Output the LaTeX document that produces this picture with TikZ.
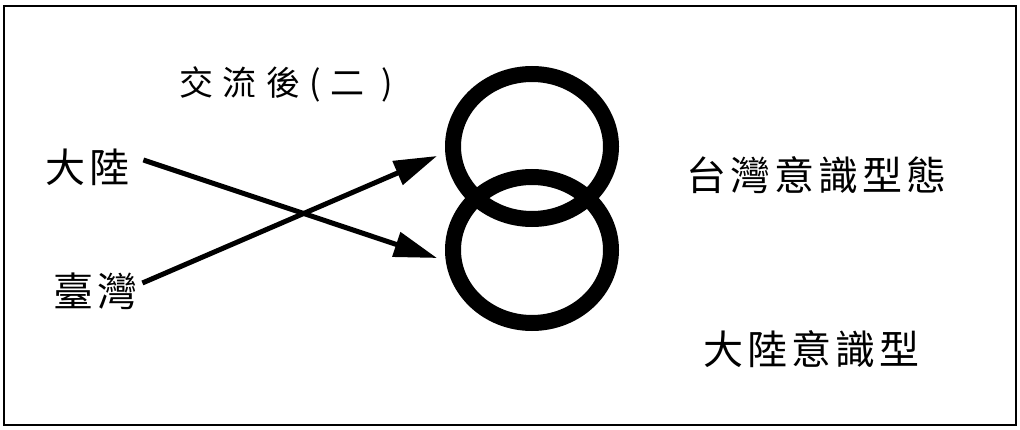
\documentclass[tikz,border=0pt]{standalone}
\usepackage{fontspec}
\usepackage{tikz}
\usetikzlibrary{positioning,shapes.geometric,arrows.meta}
\newfontfamily\cjk{Noto Sans CJK TC}

\begin{document}
\begin{tikzpicture}[x=1pt, y=-1pt,
    ring/.style={draw, ellipse, line width=16pt, inner sep=0pt,
      minimum width=158pt, minimum height=145pt},
    lbl/.style={anchor=west, inner sep=0pt,
      font=\cjk\fontsize{40}{44}\selectfont\addfontfeature{LetterSpace=10}},
    arr/.style={line width=5pt, -{Triangle[length=43pt,width=25pt]}}]
  \useasboundingbox (0,0) rectangle (1020,430);

  %% Frame
  \draw[line width=1.6pt] (4,6) rectangle (1016,425);

  %% Title
  \node[lbl, font=\cjk\fontsize{34}{38}\selectfont\addfontfeature{LetterSpace=28}]
    (title) at (179,84) {交流後(二 )};

  %% Two rings
  \node[ring] (ringup) at (532,146.5) {};
  \node[ring, minimum height=146pt] (ringlow) at (532,250) {};

  %% Ring labels
  \node[lbl] (tw) at (686,175) {台灣意識型態};
  \node[lbl] (dl) at (703,349) {大陸意識型};

  %% Sources
  \node[lbl] (dalu) at (45,167) {大陸};
  \node[lbl] (taiwan) at (53,291) {臺灣};

  %% Crossing arrows
  \draw[arr] ([xshift=14pt,yshift=7pt]dalu.east) -- ([xshift=-8pt,yshift=-8pt]ringlow.west);
  \draw[arr] ([xshift=5pt,yshift=8pt]taiwan.east) -- ([xshift=-8pt,yshift=-9.5pt]ringup.west);
\end{tikzpicture}
\end{document}
